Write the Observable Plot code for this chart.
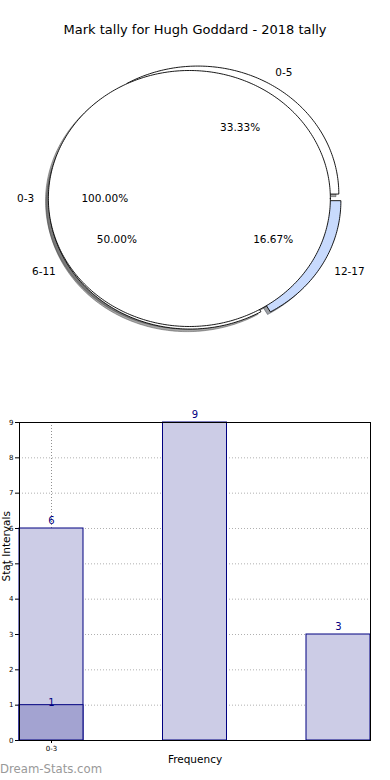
<!DOCTYPE html>
<html>
<head>
<meta charset="utf-8">
<script src="https://cdn.jsdelivr.net/npm/d3@7"></script>
<script src="https://cdn.jsdelivr.net/npm/@observablehq/plot@0.6"></script>
<style>
  body { margin: 0; background: #fff; font-family: "DejaVu Sans", sans-serif; }
  #wrap { position: relative; width: 390px; height: 780px; overflow: hidden; }
  #title { height: 60px; line-height: 60px; text-align: center; font-size: 13px; color: #000; }
  #wm { position: absolute; left: 0; top: 762px; font-size: 11.7px; color: #999; }
  svg { display: block; }
</style>
</head>
<body>
<div id="wrap">
  <div id="title"></div>
  <div id="pie"></div>
  <div id="bar"></div>
  <div id="wm"></div>
</div>
<script>
// ---- Data ----
const chartTitle = "Mark tally for Hugh Goddard - 2018 tally";
const watermark = "Dream-Stats.com";

// first pie (drawn on top)
const pieALabels = ["0-3"];
const pieAValues = [1];
const pieAColors = ["#ffffff"];

// second pie
const pieBLabels = ["0-5", "6-11", "12-17"];
const pieBValues = [6, 9, 3];
const pieBColors = ["#ffffff", "#ffffff", "#c8dafd"];

// bars
const barCategories = ["0-5", "6-11", "12-17"];
const barValues = [6, 9, 3];
const overlayCategories = ["0-3"];
const overlayValues = [1];
const xTickLabels = ["0-3"];
const yTickValues = [0, 1, 2, 3, 4, 5, 6, 7, 8, 9];
const yLabel = "Stat Intervals";
const xLabel = "Frequency";

// ---- Styles / layout constants ----
const EXPLODE = 0.04;
const LABEL_DIST = 1.1;
const PCT_DIST = 0.6;
const SHADOW_DX = -0.02, SHADOW_DY = -0.02;
const BAR_W = 0.446;

document.getElementById("title").textContent = chartTitle;
document.getElementById("wm").textContent = watermark;

// ---- Pie geometry from data ----
function buildSlices(labels, values, colors, pieId) {
  const total = d3.sum(values);
  let cum = 0;
  return values.map((v, i) => {
    const a0 = 2 * Math.PI * cum / total;
    cum += v;
    const a1 = 2 * Math.PI * cum / total;
    const mid = (a0 + a1) / 2;
    const ox = EXPLODE * Math.cos(mid), oy = EXPLODE * Math.sin(mid);
    const full = (a1 - a0) >= 2 * Math.PI - 1e-9;
    const pts = [];
    if (!full) pts.push({x: ox, y: oy});
    const n = Math.max(2, Math.ceil((a1 - a0) / (2 * Math.PI) * 360));
    for (let k = 0; k <= n; k++) {
      const a = a0 + (a1 - a0) * k / n;
      pts.push({x: ox + Math.cos(a), y: oy + Math.sin(a)});
    }
    return {
      id: pieId + "-" + i, label: labels[i], value: v, color: colors[i],
      pct: (v / total * 100).toFixed(2) + "%",
      lx: ox + LABEL_DIST * Math.cos(mid), ly: oy + LABEL_DIST * Math.sin(mid),
      px: ox + PCT_DIST * Math.cos(mid), py: oy + PCT_DIST * Math.sin(mid),
      pts
    };
  });
}

const slicesB = buildSlices(pieBLabels, pieBValues, pieBColors, "B");
const slicesA = buildSlices(pieALabels, pieAValues, pieAColors, "A");
const allSlices = [...slicesB, ...slicesA];

function shadowColor(c) {
  const col = d3.rgb(c);
  return d3.rgb(col.r * 0.3, col.g * 0.3, col.b * 0.3, 0.5).toString();
}

const pieMarks = [];
// shadows first (lower z-order)
for (const s of allSlices) {
  const sp = s.pts.map(p => ({x: p.x + SHADOW_DX, y: p.y + SHADOW_DY}));
  const sc = shadowColor(s.color);
  pieMarks.push(Plot.line(sp, {x: "x", y: "y", fill: sc, stroke: sc, strokeWidth: 1, curve: "linear-closed"}));
}
for (const s of allSlices) {
  pieMarks.push(Plot.line(s.pts, {x: "x", y: "y", fill: s.color, stroke: "#000", strokeWidth: 0.9, curve: "linear-closed"}));
}
pieMarks.push(Plot.text(allSlices.filter(d => d.lx > 0), {
  x: "lx", y: "ly", text: "label", textAnchor: "start", fontSize: 10.5, fill: "#000"
}));
pieMarks.push(Plot.text(allSlices.filter(d => d.lx <= 0), {
  x: "lx", y: "ly", text: "label", textAnchor: "end", fontSize: 10.5, fill: "#000"
}));
pieMarks.push(Plot.text(allSlices, {
  x: "px", y: "py", text: "pct", textAnchor: "middle", fontSize: 10.5, fill: "#000"
}));

const pie = Plot.plot({
  width: 390, height: 320,
  marginTop: 0, marginBottom: 0, marginLeft: 0, marginRight: 0,
  x: {domain: [-194.5 / 141, 195.5 / 141], axis: null},
  y: {domain: [(138 - 320) / 128, 138 / 128], axis: null},
  style: {fontFamily: "DejaVu Sans", background: "transparent"},
  marks: pieMarks
});
document.getElementById("pie").appendChild(pie);

// ---- Bar chart ----
const bars = barCategories.map((c, i) => ({cat: c, value: barValues[i], pos: i}));
const overlay = overlayCategories.map((c, i) => ({cat: c, value: overlayValues[i], pos: i}));
const maxPos = barCategories.length - 1;

const bar = Plot.plot({
  width: 390, height: 400,
  marginTop: 42, marginBottom: 40, marginLeft: 19, marginRight: 20,
  x: {
    domain: [-BAR_W / 2, maxPos + BAR_W / 2],
    ticks: xTickLabels.map((_, i) => i),
    tickFormat: i => xTickLabels[i],
    tickSize: 3, tickPadding: 3, label: null
  },
  y: {
    domain: [0, d3.max(yTickValues)],
    ticks: yTickValues,
    tickSize: 4, tickPadding: 2, label: null
  },
  style: {fontFamily: "DejaVu Sans", fontSize: "7px", color: "#000", background: "transparent"},
  marks: [
    Plot.ruleY(yTickValues, {stroke: "#b0b0b0", strokeDasharray: "1,2", strokeWidth: 1}),
    Plot.ruleX(xTickLabels.map((_, i) => i), {stroke: "#909090", strokeDasharray: "1,2", strokeWidth: 1}),
    Plot.rectY(bars, {x1: d => d.pos - BAR_W / 2, x2: d => d.pos + BAR_W / 2, y: "value", fill: "#ccccE6", stroke: "#000080", strokeWidth: 1}),
    Plot.rectY(overlay, {x1: d => d.pos - BAR_W / 2, x2: d => d.pos + BAR_W / 2, y: "value", fill: "#a3a3d1", stroke: "#000080", strokeWidth: 1}),
    Plot.text(bars, {x: "pos", y: "value", text: d => String(d.value), lineAnchor: "bottom", dy: -5, fill: "#000080", fontSize: 10}),
    Plot.text(overlay, {x: "pos", y: "value", text: d => String(d.value), lineAnchor: "middle", dy: -2, fill: "#000080", fontSize: 10}),
    Plot.frame({stroke: "#000", strokeWidth: 1}),
    Plot.text([yLabel], {frameAnchor: "left", text: d => d, rotate: -90, dx: -13, fontSize: 10.5, fill: "#000"}),
    Plot.text([xLabel], {frameAnchor: "bottom", text: d => d, dy: 22, fontSize: 10.5, fill: "#000"})
  ]
});
document.getElementById("bar").appendChild(bar);
</script>
</body>
</html>
